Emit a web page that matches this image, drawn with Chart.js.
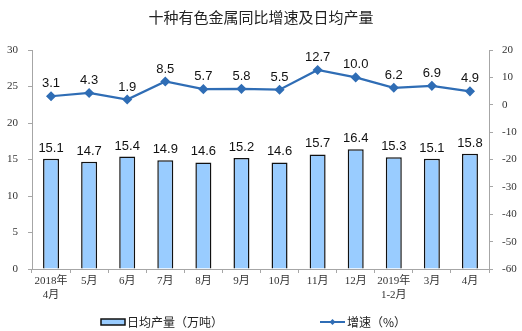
<!DOCTYPE html>
<html>
<head>
<meta charset="utf-8">
<script src="https://cdn.jsdelivr.net/npm/chart.js@4"></script>
<style>
  html, body { margin: 0; padding: 0; background: #fff; }
  #wrap { width: 522px; height: 331px; position: relative; }
</style>
</head>
<body>
<div id="wrap"><canvas id="c" width="522" height="331"></canvas></div>
<script>
const months = [['2018年', '4月'], '5月', '6月', '7月', '8月', '9月', '10月', '11月', '12月', ['2019年', '1-2月'], '3月', '4月'];
const output = [15.1, 14.7, 15.4, 14.9, 14.6, 15.2, 14.6, 15.7, 16.4, 15.3, 15.1, 15.8];
const growth = [3.1, 4.3, 1.9, 8.5, 5.7, 5.8, 5.5, 12.7, 10.0, 6.2, 6.9, 4.9];
const leftTicks = [0, 5, 10, 15, 20, 25, 30];
const rightTicks = [-60, -50, -40, -30, -20, -10, 0, 10, 20];

const axisGrey = '#a6a6a6';
const lineBlue = '#2f6db5';
const barBlue = '#99ccff';
const serif = "'Liberation Serif', 'Noto Sans CJK SC', serif";

// value labels, title and legend
const extras = {
  id: 'extras',
  afterDatasetsDraw(chart) {
    const ctx = chart.ctx;
    ctx.save();
    ctx.fillStyle = '#111';
    ctx.font = "13px 'Liberation Sans', Arial, sans-serif";
    ctx.textAlign = 'center';
    ctx.textBaseline = 'bottom';
    chart.getDatasetMeta(1).data.forEach((el, i) => {
      ctx.fillText(output[i].toFixed(1), el.x, el.y - 4);
    });
    chart.getDatasetMeta(0).data.forEach((el, i) => {
      ctx.fillText(growth[i].toFixed(1), el.x, el.y - 6);
    });

    // title
    ctx.font = "15px 'Noto Sans CJK SC', sans-serif";
    ctx.textBaseline = 'middle';
    ctx.fillStyle = '#222';
    ctx.fillText('十种有色金属同比增速及日均产量', 261, 17);

    // legend
    ctx.textAlign = 'left';
    ctx.font = "12px 'Noto Sans CJK SC', sans-serif";
    ctx.fillStyle = barBlue;
    ctx.fillRect(101, 319, 24, 6);
    ctx.strokeStyle = '#111';
    ctx.lineWidth = 1.5;
    ctx.strokeRect(101, 319, 24, 6);
    ctx.fillStyle = '#222';
    ctx.fillText('日均产量（万吨）', 127, 322);

    ctx.strokeStyle = lineBlue;
    ctx.lineWidth = 2;
    ctx.beginPath();
    ctx.moveTo(320, 322);
    ctx.lineTo(345, 322);
    ctx.stroke();
    ctx.fillStyle = lineBlue;
    ctx.beginPath();
    ctx.moveTo(332.5, 319);
    ctx.lineTo(335.5, 322);
    ctx.lineTo(332.5, 325);
    ctx.lineTo(329.5, 322);
    ctx.closePath();
    ctx.fill();
    ctx.fillStyle = '#222';
    ctx.fillText('增速（%）', 347, 322);
    ctx.restore();
  }
};

new Chart(document.getElementById('c'), {
  data: {
    labels: months,
    datasets: [
      {
        type: 'line',
        label: '增速（%）',
        data: growth,
        yAxisID: 'y1',
        borderColor: lineBlue,
        backgroundColor: lineBlue,
        borderWidth: 2.2,
        pointStyle: 'rectRot',
        pointRadius: 3.5,
        tension: 0,
        order: 0
      },
      {
        type: 'bar',
        label: '日均产量（万吨）',
        data: output,
        yAxisID: 'y',
        backgroundColor: barBlue,
        borderColor: '#111',
        borderWidth: 1.5,
        categoryPercentage: 1,
        barPercentage: 0.42,
        order: 1
      }
    ]
  },
  options: {
    responsive: false,
    animation: false,
    layout: { padding: { top: 50, bottom: 0, left: 0, right: 0 } },
    plugins: {
      legend: { display: false },
      title: { display: false },
      tooltip: { enabled: false }
    },
    scales: {
      x: {
        grid: { display: true, drawOnChartArea: false, offset: true, tickLength: 4, color: axisGrey },
        border: { color: axisGrey },
        ticks: { color: '#333', font: { family: serif, size: 11 }, maxRotation: 0, autoSkip: false, padding: 2 },
        afterFit(s) { s.height = 62; }
      },
      y: {
        position: 'left',
        min: 0, max: 30,
        afterBuildTicks(s) { s.ticks = leftTicks.map(v => ({ value: v })); },
        grid: { display: true, drawOnChartArea: false, tickLength: 4, color: axisGrey },
        border: { color: axisGrey },
        ticks: { color: '#333', font: { family: serif, size: 11 }, padding: 10 },
        afterFit(s) { s.width = 32; }
      },
      y1: {
        position: 'right',
        min: -60, max: 20,
        afterBuildTicks(s) { s.ticks = rightTicks.map(v => ({ value: v })); },
        grid: { display: true, drawOnChartArea: false, tickLength: 4, color: axisGrey },
        border: { color: axisGrey },
        ticks: { color: '#333', font: { family: serif, size: 11 }, padding: 9 },
        afterFit(s) { s.width = 33; }
      }
    }
  },
  plugins: [extras]
});
</script>
</body>
</html>
